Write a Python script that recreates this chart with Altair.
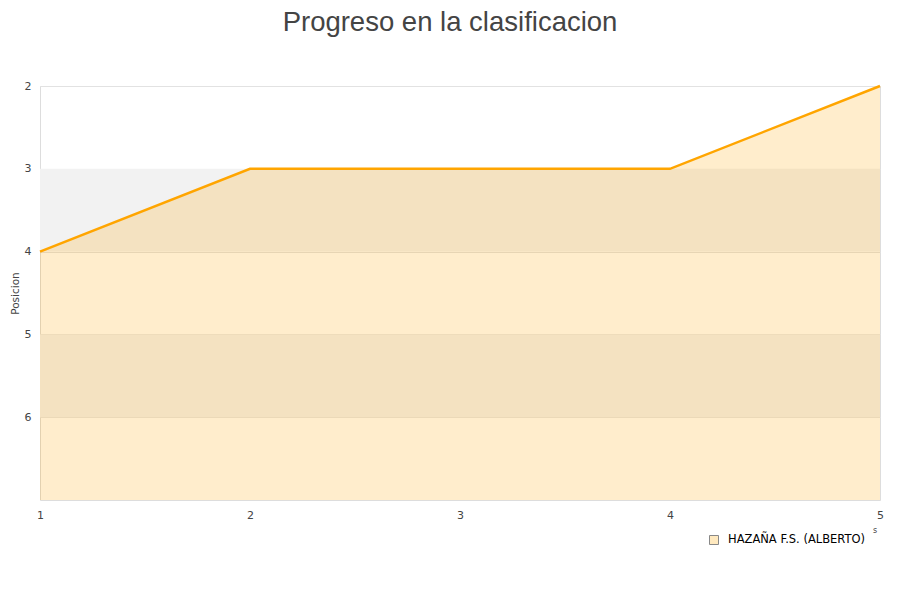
import altair as alt
import pandas as pd

jornadas = [1, 2, 3, 4, 5]
posiciones = [4, 3, 3, 3, 2]
serie = "HAZAÑA F.S. (ALBERTO)"
band_start = [3, 5]
band_end = [4, 6]
y_ticks = [2, 3, 4, 5, 6]
x_ticks = [1, 2, 3, 4, 5]

df = pd.DataFrame({"jornada": jornadas, "posicion": posiciones, "equipo": [serie] * len(jornadas)})
bands = pd.DataFrame({"y0": band_start, "y1": band_end})

W, H = 840, 414

xscale = alt.Scale(domain=[1, 5], nice=False, zero=False)
yscale = alt.Scale(domain=[2, 7], nice=False, zero=False, reverse=True)

xaxis = alt.Axis(values=x_ticks, title=None, grid=False, domain=False, ticks=False,
                 labelPadding=9, labelFontSize=11, labelColor="#444444", labelFont="DejaVu Sans",
                 labelFlush=False, labelOverlap=False, format="d")
yaxis = alt.Axis(values=y_ticks, title="Posicion", grid=True, gridColor="#e2e2e2", domain=False,
                 ticks=False, labelPadding=9, labelFontSize=11, labelColor="#444444",
                 labelFont="DejaVu Sans", titleFont="DejaVu Sans", titleFontSize=10.5,
                 titleFontWeight="normal", titleColor="#444444", titleX=-20,
                 labelFlush=False, format="d")

band_layer = alt.Chart(bands).mark_rect(color="#f2f2f2").encode(
    x=alt.value(0), x2=alt.value(W),
    y=alt.Y("y0:Q", scale=yscale, axis=yaxis),
    y2="y1:Q",
)

area = alt.Chart(df).mark_area(color="#ffa500", opacity=0.2).encode(
    x=alt.X("jornada:Q", scale=xscale, axis=xaxis),
    y=alt.Y("posicion:Q", scale=yscale, axis=yaxis),
    y2=alt.datum(7),
)

line = alt.Chart(df).mark_line(color="#ffa500", strokeWidth=2.5).encode(
    x=alt.X("jornada:Q", scale=xscale, axis=xaxis),
    y=alt.Y("posicion:Q", scale=yscale, axis=yaxis),
)

title = alt.Chart(pd.DataFrame({"t": ["Progreso en la clasificacion"]})).mark_text(
    font="Liberation Sans", fontSize=27.5, color="#444444", align="center", baseline="alphabetic"
).encode(x=alt.value(410), y=alt.value(-55), text="t:N")

legend_df = pd.DataFrame({"equipo": [serie]})
legend_sym = alt.Chart(legend_df).mark_square(
    size=81, fill="#ffe9bf", stroke="#888888", strokeWidth=1, opacity=1
).encode(x=alt.value(674), y=alt.value(454))
legend_txt = alt.Chart(legend_df).mark_text(
    font="DejaVu Sans", fontSize=11.5, color="#000000", align="left", baseline="middle"
).encode(x=alt.value(688), y=alt.value(454), text="equipo:N")

xtitle = alt.Chart(pd.DataFrame({"t": ["s"]})).mark_text(
    font="DejaVu Sans", fontSize=8, color="#444444", align="center", baseline="middle"
).encode(x=alt.value(835), y=alt.value(445), text="t:N")

chart = alt.layer(band_layer, area, line, title, legend_sym, legend_txt, xtitle).properties(
    width=W, height=H,
    autosize=alt.AutoSizeParams(type="none"),
    padding={"left": 32, "top": 78, "right": 12, "bottom": 92},
).configure_view(stroke="#d9d9d9", strokeWidth=1).configure(background="white")

chart.save("out.html", embed_options={"renderer": "svg", "actions": False})
